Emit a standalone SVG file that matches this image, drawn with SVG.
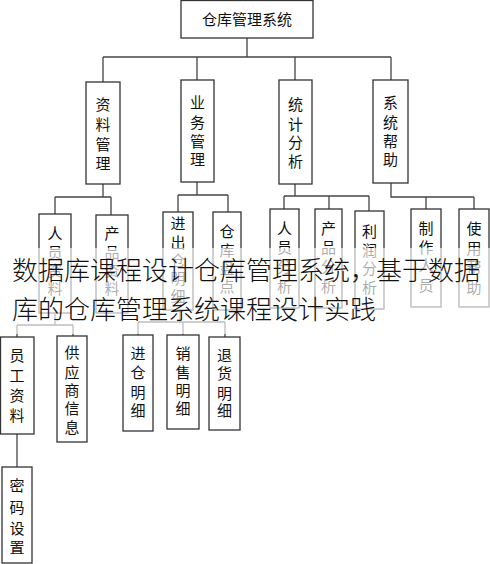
<svg xmlns="http://www.w3.org/2000/svg" width="490" height="564" viewBox="0 0 490 564">
<style>
.box{fill:#fff;stroke:#333;stroke-width:1.3}
.lbl{font-family:"Noto Sans CJK SC","Noto Sans",sans-serif;font-size:15px;fill:#111;text-anchor:middle}
.con{fill:none;stroke:#444;stroke-width:1.3}
.ov{font-family:"Noto Sans CJK SC","Noto Sans",sans-serif;font-size:26px;font-weight:300;fill:#111}
</style>
<rect width="490" height="564" fill="#fff"/>
<g id="connectors" class="con">
<path d="M247,38V57M103,57H391M103,57V82M197,57V80M295,57V80M391,57V80"/>
<path d="M103,184V197M55,197H111M55,197V214M111,197V215"/>
<path d="M197,182V195M178,195H228M178,195V212M228,195V212"/>
<path d="M295,184V196M284,196H369M284,196V209M329,196V209M369,196V211"/>
<path d="M391,183V197H474M426,197V209M474,197V209"/>
<path d="M55,313V325M17,325H73M17,325V337M73,325V336"/>
<path d="M17,434V467"/>
<path d="M180,310V322M138,322H225M138,322V335M183,322V335M225,322V337"/>
</g>
<g id="root"><rect class="box" x="181" y="0.5" width="132" height="37.5"/><text class="lbl" x="247" y="25">仓库管理系统</text></g>
<g id="n_ziliao"><rect class="box" x="86" y="82" width="34" height="102"/><text class="lbl" x="103"><tspan x="103" y="110">资</tspan><tspan x="103" y="130">料</tspan><tspan x="103" y="150">管</tspan><tspan x="103" y="169">理</tspan></text></g>
<g id="n_yewu"><rect class="box" x="181" y="80" width="33" height="102"/><text class="lbl"><tspan x="197.5" y="108">业</tspan><tspan x="197.5" y="128">务</tspan><tspan x="197.5" y="147">管</tspan><tspan x="197.5" y="165">理</tspan></text></g>
<g id="n_tongji"><rect class="box" x="279" y="80" width="33" height="104"/><text class="lbl"><tspan x="295.5" y="110">统</tspan><tspan x="295.5" y="130">计</tspan><tspan x="295.5" y="148">分</tspan><tspan x="295.5" y="167">析</tspan></text></g>
<g id="n_xitong"><rect class="box" x="373" y="80" width="35" height="103"/><text class="lbl"><tspan x="390.5" y="108">系</tspan><tspan x="390.5" y="128">统</tspan><tspan x="390.5" y="147">帮</tspan><tspan x="390.5" y="165">助</tspan></text></g>
<g id="n_renyuanziliao"><rect class="box" x="39" y="214" width="32" height="99"/><text class="lbl"><tspan x="55" y="239">人</tspan><tspan x="55" y="258">员</tspan><tspan x="55" y="276">资</tspan><tspan x="55" y="294">料</tspan></text></g>
<g id="n_chanpinziliao"><rect class="box" x="96" y="215" width="32" height="98"/><text class="lbl"><tspan x="112" y="239">产</tspan><tspan x="112" y="258">品</tspan><tspan x="112" y="276">资</tspan><tspan x="112" y="294">料</tspan></text></g>
<g id="n_jinchucang"><rect class="box" x="163" y="212" width="30" height="98"/><text class="lbl"><tspan x="178" y="229">进</tspan><tspan x="178" y="248">出</tspan><tspan x="178" y="266">仓</tspan><tspan x="178" y="284">明</tspan><tspan x="178" y="302">细</tspan></text></g>
<g id="n_pandian"><rect class="box" x="213" y="212" width="28" height="98"/><text class="lbl"><tspan x="227" y="237">仓</tspan><tspan x="227" y="256">库</tspan><tspan x="227" y="274">盘</tspan><tspan x="227" y="292">点</tspan></text></g>
<g id="n_renyuanfenxi"><rect class="box" x="270" y="209" width="29" height="99"/><text class="lbl"><tspan x="284.5" y="234">人</tspan><tspan x="284.5" y="253">员</tspan><tspan x="284.5" y="272">分</tspan><tspan x="284.5" y="292">析</tspan></text></g>
<g id="n_chanpinfenxi"><rect class="box" x="315" y="209" width="27" height="99"/><text class="lbl"><tspan x="328.5" y="234">产</tspan><tspan x="328.5" y="253">品</tspan><tspan x="328.5" y="272">分</tspan><tspan x="328.5" y="292">析</tspan></text></g>
<g id="n_lirun"><rect class="box" x="355" y="211" width="29" height="98"/><text class="lbl"><tspan x="369.5" y="237">利</tspan><tspan x="369.5" y="256">润</tspan><tspan x="369.5" y="274">分</tspan><tspan x="369.5" y="293">析</tspan></text></g>
<g id="n_zhizuo"><rect class="box" x="411" y="209" width="30" height="98"/><text class="lbl"><tspan x="426" y="234">制</tspan><tspan x="426" y="253">作</tspan><tspan x="426" y="271">人</tspan><tspan x="426" y="291">员</tspan></text></g>
<g id="n_shiyong"><rect class="box" x="459" y="209" width="30" height="98"/><text class="lbl"><tspan x="474" y="234">使</tspan><tspan x="474" y="254">用</tspan><tspan x="474" y="273">帮</tspan><tspan x="474" y="293">助</tspan></text></g>
<g id="n_yuangong"><rect class="box" x="0.5" y="337" width="33.5" height="97"/><text class="lbl"><tspan x="17" y="361">员</tspan><tspan x="17" y="381">工</tspan><tspan x="17" y="401">资</tspan><tspan x="17" y="421">料</tspan></text></g>
<g id="n_gongying"><rect class="box" x="57" y="336" width="30" height="106"/><text class="lbl"><tspan x="72" y="358">供</tspan><tspan x="72" y="378">应</tspan><tspan x="72" y="396">商</tspan><tspan x="72" y="414">信</tspan><tspan x="72" y="433">息</tspan></text></g>
<g id="n_jincang"><rect class="box" x="123" y="335" width="30" height="96"/><text class="lbl"><tspan x="138" y="359">进</tspan><tspan x="138" y="378">仓</tspan><tspan x="138" y="398">明</tspan><tspan x="138" y="416">细</tspan></text></g>
<g id="n_xiaoshou"><rect class="box" x="167" y="335" width="32" height="94"/><text class="lbl"><tspan x="183" y="359">销</tspan><tspan x="183" y="378">售</tspan><tspan x="183" y="396">明</tspan><tspan x="183" y="414">细</tspan></text></g>
<g id="n_tuihuo"><rect class="box" x="209" y="337" width="31" height="93"/><text class="lbl"><tspan x="224.5" y="361">退</tspan><tspan x="224.5" y="379">货</tspan><tspan x="224.5" y="399">明</tspan><tspan x="224.5" y="416">细</tspan></text></g>
<g id="n_mima"><rect class="box" x="2" y="467" width="30" height="96"/><text class="lbl"><tspan x="17" y="491">密</tspan><tspan x="17" y="513">码</tspan><tspan x="17" y="534">设</tspan><tspan x="17" y="553">置</tspan></text></g>
<g id="overlay">
<rect x="0" y="248" width="490" height="86" fill="#fff" fill-opacity="0.65"/>
<text class="ov" x="12" y="280">数据库课程设计仓库管理系统，基于数据</text>
<text class="ov" x="12" y="319">库的仓库管理系统课程设计实践</text>
</g>
</svg>
